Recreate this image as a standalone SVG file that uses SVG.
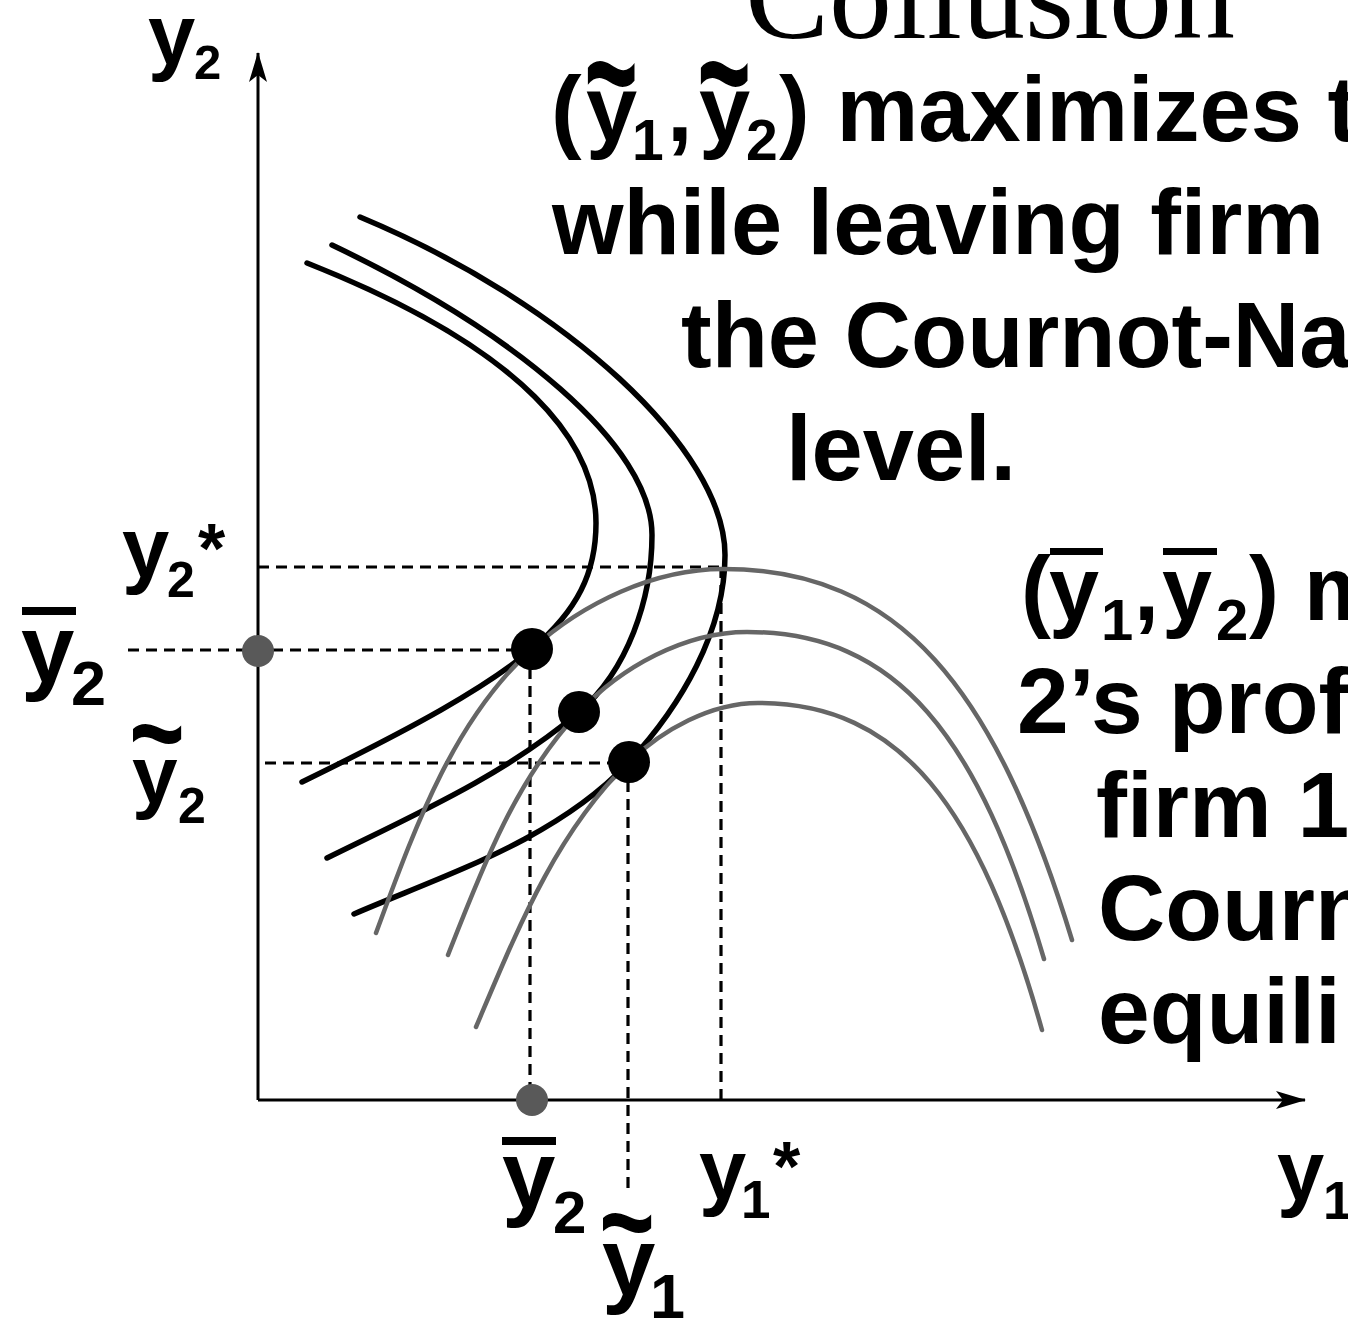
<svg xmlns="http://www.w3.org/2000/svg" width="1348" height="1319" viewBox="0 0 1348 1319">
<style>
.t{font-family:"Liberation Sans",Arial,Helvetica,sans-serif;font-weight:bold;fill:#000}
.ttl{font-family:"Liberation Serif","Times New Roman",serif;fill:#000}
.ax{stroke:#000;stroke-width:3;fill:none}
.dash{stroke:#000;stroke-width:3.2;stroke-dasharray:11 7;fill:none}
.blk{stroke:#000;stroke-width:5.5;fill:none;stroke-linecap:round}
.gry{stroke:#666;stroke-width:4.5;fill:none;stroke-linecap:round}
.dot{fill:#000}
.gdot{fill:#595959}
.bar{fill:#000}
</style>
<defs>
<marker id="arr" markerUnits="userSpaceOnUse" markerWidth="30" markerHeight="18" viewBox="0 0 30 18" refX="29" refY="9" orient="auto">
<path d="M0,0 L30,9 L0,18 L7,9 z" fill="#000"/>
</marker>
</defs>
<text class="ttl" x="990" y="38" font-size="126" text-anchor="middle">Collusion</text>
<g id="axes">
<line class="ax" x1="258" y1="1100" x2="258" y2="53" marker-end="url(#arr)"/>
<line class="ax" x1="258" y1="1100" x2="1305" y2="1100" marker-end="url(#arr)"/>
</g>
<g id="connectors">
<line class="dash" x1="258" y1="567" x2="725" y2="567"/>
<line class="dash" x1="721" y1="567" x2="721" y2="1100"/>
<line class="dash" x1="128" y1="650" x2="532" y2="650"/>
<line class="dash" x1="530" y1="650" x2="530" y2="1100"/>
<line class="dash" x1="265" y1="763" x2="629" y2="763"/>
<line class="dash" x1="628" y1="763" x2="628" y2="1188"/>
</g>
<g id="curves-firm1">
<path class="blk" d="M307,263 C529,351 596,445 596,523 C596,622 523,674 302,782"/>
<path class="blk" d="M332,245 C514,332 652,445 652,535 C652,599 627.6,670.4 579,712 C505,775 414,815 327,858"/>
<path class="blk" d="M360,217 C566,303 725,450 725,555 C725,631 681,706 629,762 C557,839 450.5,872.6 354,914"/>
</g>
<g id="curves-firm2">
<path class="gry" d="M376,933 C413.5,831.7 452,721.4 532,649 C583,603 654,569 723,569 C900,569 995,688 1072,940"/>
<path class="gry" d="M448,955 C481.5,869.3 515.9,778.9 579,712 C621.5,666.9 685,632 747,632 C898,632 978.5,736.8 1044,959"/>
<path class="gry" d="M476,1027 C515.9,933.2 555.5,832.6 629,762 C662.9,729.5 711,703 758,703 C902,703 979.4,807.8 1042,1030"/>
</g>
<g id="points">
<circle class="gdot" cx="258" cy="651" r="16"/>
<circle class="gdot" cx="532" cy="1100" r="16"/>
<circle id="p-bar" class="dot" cx="532" cy="649" r="21"/>
<circle id="p-mid" class="dot" cx="579" cy="712" r="21"/>
<circle id="p-tilde" class="dot" cx="629" cy="762" r="21"/>
</g>
<g id="label-y2-axis">
<text class="t" font-size="85"><tspan x="148" y="64">y</tspan><tspan x="194" y="79" font-size="49">2</tspan></text>
</g>
<g id="label-y1-axis">
<text class="t" font-size="85"><tspan x="1277" y="1200">y</tspan><tspan x="1323" y="1219" font-size="53">1</tspan></text>
</g>
<g id="label-y2star">
<text class="t" font-size="85"><tspan x="122" y="577">y</tspan><tspan x="167" y="597" font-size="50">2</tspan><tspan x="198" y="573" font-size="70">*</tspan></text>
</g>
<g id="label-y2bar">
<rect class="bar" x="22" y="607" width="54" height="8"/>
<text class="t" font-size="96"><tspan x="21" y="682">y</tspan><tspan x="71" y="705" font-size="63">2</tspan></text>
</g>
<g id="label-y2tilde">
<text class="t" font-size="95" text-anchor="middle" transform="translate(157,733) scale(1,1.35)" x="0" y="32">~</text>
<text class="t" font-size="82"><tspan x="132" y="803">y</tspan><tspan x="178" y="823" font-size="50">2</tspan></text>
</g>
<g id="label-y2bar-bottom">
<rect class="bar" x="502" y="1137" width="54" height="8"/>
<text class="t" font-size="96"><tspan x="502" y="1208">y</tspan><tspan x="553" y="1233" font-size="60">2</tspan></text>
</g>
<g id="label-y1tilde-bottom">
<text class="t" font-size="95" text-anchor="middle" transform="translate(627,1222) scale(1,1.35)" x="0" y="32">~</text>
<text class="t" font-size="96"><tspan x="602" y="1295">y</tspan><tspan x="650" y="1318" font-size="63">1</tspan></text>
</g>
<g id="label-y1star">
<text class="t" font-size="85"><tspan x="699" y="1199">y</tspan><tspan x="741" y="1218" font-size="53">1</tspan><tspan x="773" y="1191" font-size="70">*</tspan></text>
</g>
<g id="text-collusion">
<text class="t" font-size="92" text-anchor="middle" transform="translate(611,73) scale(1,1.8)" x="0" y="31">~</text>
<text class="t" font-size="92" text-anchor="middle" transform="translate(724,73) scale(1,1.8)" x="0" y="31">~</text>
<text class="t" font-size="92"><tspan x="551" y="141">(</tspan><tspan x="586" y="141">y</tspan><tspan x="632" y="160" font-size="57">1</tspan><tspan x="667" y="141">,</tspan><tspan x="699" y="141">y</tspan><tspan x="746" y="160" font-size="57">2</tspan><tspan x="779" y="141">)</tspan><tspan x="811" y="141"> maximizes t</tspan></text>
<text class="t" font-size="92" x="552" y="254">while leaving firm</text>
<text class="t" font-size="92" x="681" y="367">the Cournot-Na</text>
<text class="t" font-size="92" x="786" y="480">level.</text>
</g>
<g id="text-cournot">
<rect class="bar" x="1050" y="548" width="53" height="7"/>
<rect class="bar" x="1163" y="548" width="54" height="7"/>
<text class="t" font-size="90"><tspan x="1021" y="620">(</tspan><tspan x="1049" y="620">y</tspan><tspan x="1101" y="640" font-size="58">1</tspan><tspan x="1134" y="620">,</tspan><tspan x="1162" y="620">y</tspan><tspan x="1216" y="640" font-size="58">2</tspan><tspan x="1249" y="620">)</tspan><tspan x="1279" y="620"> m</tspan></text>
<text class="t" font-size="93" x="1017" y="733">2’s prof</text>
<text class="t" font-size="93" x="1096" y="837">firm 1</text>
<text class="t" font-size="93" x="1098" y="940">Courn</text>
<text class="t" font-size="93" x="1098" y="1043">equili</text>
</g>
</svg>
